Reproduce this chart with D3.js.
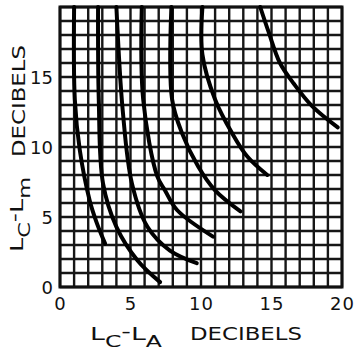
<!DOCTYPE html>
<html>
<head>
<meta charset="utf-8">
<script src="https://cdn.jsdelivr.net/npm/d3@7"></script>
<style>
  body { margin: 0; background: #fff; }
  svg { display: block; }
  text { font-family: "DejaVu Sans", sans-serif; fill: #111; }
</style>
</head>
<body>
<svg id="chart" width="357" height="351"></svg>
<script>
// tick labels
const xTicks = [0, 5, 10, 15, 20];
const yTicks = [0, 5, 10, 15];

// curves, [Lc-La, Lc-Lm] pairs
const curve1 = [[1.0, 20], [1.05, 13.4], [1.4, 9.8], [2.1, 6.2], [2.6, 4.6], [3.2, 3.1]];
const curve2 = [[2.7, 20], [2.75, 13.4], [3.05, 7.4], [4.0, 4.3], [5.5, 1.9], [7.1, 0.35]];
const curve3 = [[4.0, 20], [4.45, 12.6], [5.1, 7.4], [6.2, 4.3], [7.8, 2.6], [9.7, 1.7]];
const curve4 = [[5.8, 20], [5.9, 13.4], [6.9, 7.9], [7.45, 6.9], [8.3, 5.5], [10.85, 3.6]];
const curve5 = [[7.9, 20], [7.95, 13.4], [8.65, 11.0], [9.8, 8.6], [11.0, 6.9], [12.8, 5.4]];
const curve6 = [[10.1, 20], [10.1, 16.6], [11.0, 13.4], [12.2, 11.0], [13.3, 9.3], [14.7, 8.0]];
const curve7 = [[14.2, 20], [14.8, 18.2], [15.6, 16.0], [16.6, 14.5], [17.9, 12.9], [19.7, 11.4]];
const curves = [curve1, curve2, curve3, curve4, curve5, curve6, curve7];

const svg = d3.select('svg#chart');

const x = d3.scaleLinear().domain([0, 20]).range([60, 342]);
const y = d3.scaleLinear().domain([0, 20]).range([287, 7]);

// 1 dB grid
const grid = svg.append('g')
  .attr('stroke', '#161616')
  .attr('stroke-width', 2.4);

grid.selectAll('line.v')
  .data(d3.range(0, 21))
  .join('line')
  .attr('class', 'v')
  .attr('x1', d => x(d))
  .attr('x2', d => x(d))
  .attr('y1', y(0))
  .attr('y2', y(20));

grid.selectAll('line.h')
  .data(d3.range(0, 21))
  .join('line')
  .attr('class', 'h')
  .attr('x1', x(0))
  .attr('x2', x(20))
  .attr('y1', d => y(d))
  .attr('y2', d => y(d));

// frame
svg.append('rect')
  .attr('x', x(0))
  .attr('y', y(20))
  .attr('width', x(20) - x(0))
  .attr('height', y(0) - y(20))
  .attr('fill', 'none')
  .attr('stroke', '#111')
  .attr('stroke-width', 3);

// curves
const line = d3.line()
  .x(d => x(d[0]))
  .y(d => y(d[1]))
  .curve(d3.curveCatmullRom.alpha(0.5));

svg.append('g')
  .selectAll('path')
  .data(curves)
  .join('path')
  .attr('d', line)
  .attr('fill', 'none')
  .attr('stroke', '#000')
  .attr('stroke-width', 4)
  .attr('stroke-linecap', 'round');

// axes (labels only)
const xAxis = svg.append('g')
  .attr('transform', 'translate(0,' + y(0) + ')')
  .call(d3.axisBottom(x).tickValues(xTicks).tickSize(0).tickPadding(10));
xAxis.select('.domain').remove();
xAxis.selectAll('text')
  .attr('font-size', '18px')
  .attr('letter-spacing', '1px')
  .attr('font-family', '"DejaVu Sans", sans-serif')
  .attr('fill', '#111');

const yAxis = svg.append('g')
  .attr('transform', 'translate(' + x(0) + ',0)')
  .call(d3.axisLeft(y).tickValues(yTicks).tickSize(0).tickPadding(7));
yAxis.select('.domain').remove();
yAxis.selectAll('text')
  .attr('font-size', '18px')
  .attr('font-family', '"DejaVu Sans", sans-serif')
  .attr('fill', '#111')
  .attr('dy', '0.38em');

// axis titles: L with subscripts, stretched like the lettering guide
function subTitle(g, transform, sub1, sub2, len) {
  const t = g.append('text')
    .attr('transform', transform)
    .attr('font-size', '17px')
    .attr('textLength', len)
    .attr('lengthAdjust', 'spacingAndGlyphs');
  t.append('tspan').text('L');
  t.append('tspan').attr('font-size', '15px').attr('dy', 7).text(sub1);
  t.append('tspan').attr('dy', -10).text('-');
  t.append('tspan').attr('dy', 3).text('L');
  t.append('tspan').attr('font-size', '15px').attr('dy', 7).text(sub2);
}

subTitle(svg, 'translate(90,340)', 'C', 'A', 72);
subTitle(svg, 'translate(23,252) rotate(-90)', 'C', 'm', 75);

svg.append('text')
  .attr('x', 190)
  .attr('y', 340)
  .attr('font-size', '17px')
  .attr('textLength', 112)
  .attr('lengthAdjust', 'spacingAndGlyphs')
  .text('DECIBELS');

svg.append('text')
  .attr('transform', 'translate(25,157) rotate(-90)')
  .attr('font-size', '17px')
  .attr('textLength', 112)
  .attr('lengthAdjust', 'spacingAndGlyphs')
  .text('DECIBELS');
</script>
</body>
</html>
